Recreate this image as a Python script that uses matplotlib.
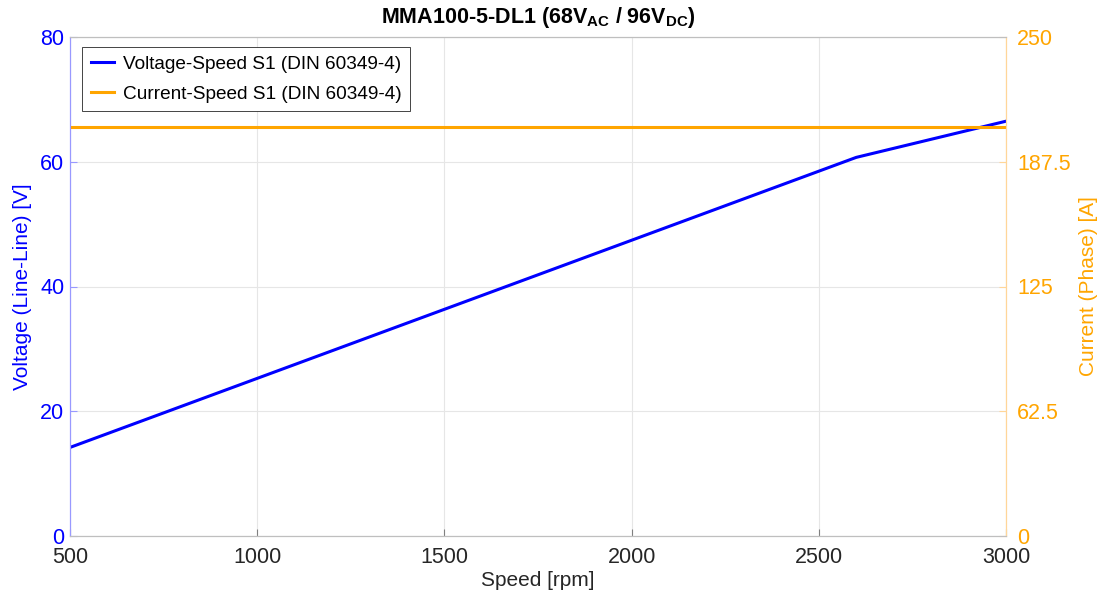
import matplotlib

matplotlib.use("Agg")
import matplotlib.pyplot as plt

plt.rcParams["font.family"] = ["Liberation Sans", "DejaVu Sans"]

# data
speed_v = [500, 2600, 3000]
voltage = [14.2, 60.7, 66.5]
speed_i = [500, 3000]
current = [205.0, 205.0]

x_ticks = [500, 1000, 1500, 2000, 2500, 3000]
v_ticks = [0, 20, 40, 60, 80]
i_ticks = [0, 62.5, 125, 187.5, 250]
i_labels = ["0", "62.5", "125", "187.5", "250"]

BLUE = "#0000ff"
ORANGE = "#ffa500"
GRID = "#e6e6e6"
AXC = "#262626"

fig = plt.figure(figsize=(11.07, 6.0), dpi=100, facecolor="white")
ax = fig.add_axes([70 / 1107, 1 - 536 / 600, 936 / 1107, 499 / 600])
ax2 = ax.twinx()

lv, = ax.plot(speed_v, voltage, color=BLUE, lw=2.2,
              label="Voltage-Speed S1 (DIN 60349-4)")
li, = ax2.plot(speed_i, current, color=ORANGE, lw=2.2,
               label="Current-Speed S1 (DIN 60349-4)")

ax.set_xlim(500, 3000)
ax.set_ylim(0, 80)
ax2.set_ylim(0, 250)
ax.set_xticks(x_ticks)
ax.set_yticks(v_ticks)
ax2.set_yticks(i_ticks)
ax2.set_yticklabels(i_labels)

ax.grid(True, color=GRID, lw=0.8)
ax.set_axisbelow(True)

for a in (ax, ax2):
    for s in a.spines.values():
        s.set_linewidth(0.8)
    a.spines["top"].set_color("#bfbfbf")
    a.spines["bottom"].set_color("#bfbfbf")
    a.spines["left"].set_color("#9999ff")
    a.spines["right"].set_color("#ffd699")

ax.tick_params(axis="x", direction="in", length=5, colors="#808080",
               labelcolor=AXC, labelsize=15.5, pad=8)
ax.tick_params(axis="y", direction="in", length=5, colors="#9999ff",
               labelcolor=BLUE, labelsize=15.5, pad=4)
ax2.tick_params(axis="y", direction="in", length=5, colors="#ffd699",
                labelcolor=ORANGE, labelsize=15.5, pad=8)

ax.set_xlabel("Speed [rpm]", fontsize=15, color=AXC, labelpad=2)
ax.set_ylabel("Voltage (Line-Line) [V]", fontsize=15, color=BLUE, labelpad=6)
ax2.set_ylabel("Current (Phase) [A]", fontsize=15, color=ORANGE, labelpad=6)

ax.set_title(r"MMA100-5-DL1 (68V$_{\mathregular{AC}}$ / 96V$_{\mathregular{DC}}$)",
             fontsize=15.5, fontweight="bold", color="black", pad=10)

leg = ax2.legend(handles=[lv, li], loc="upper left", fontsize=13.7,
                 frameon=True, fancybox=False, framealpha=1,
                 edgecolor="#262626", borderpad=0.45, handlelength=1.25,
                 handletextpad=0.45, labelspacing=0.65, borderaxespad=0,
                 bbox_to_anchor=(12 / 936, 1 - 10 / 499))
leg.get_frame().set_linewidth(0.6)

fig.savefig("out.png", dpi=100, facecolor="white")
plt.close(fig)
